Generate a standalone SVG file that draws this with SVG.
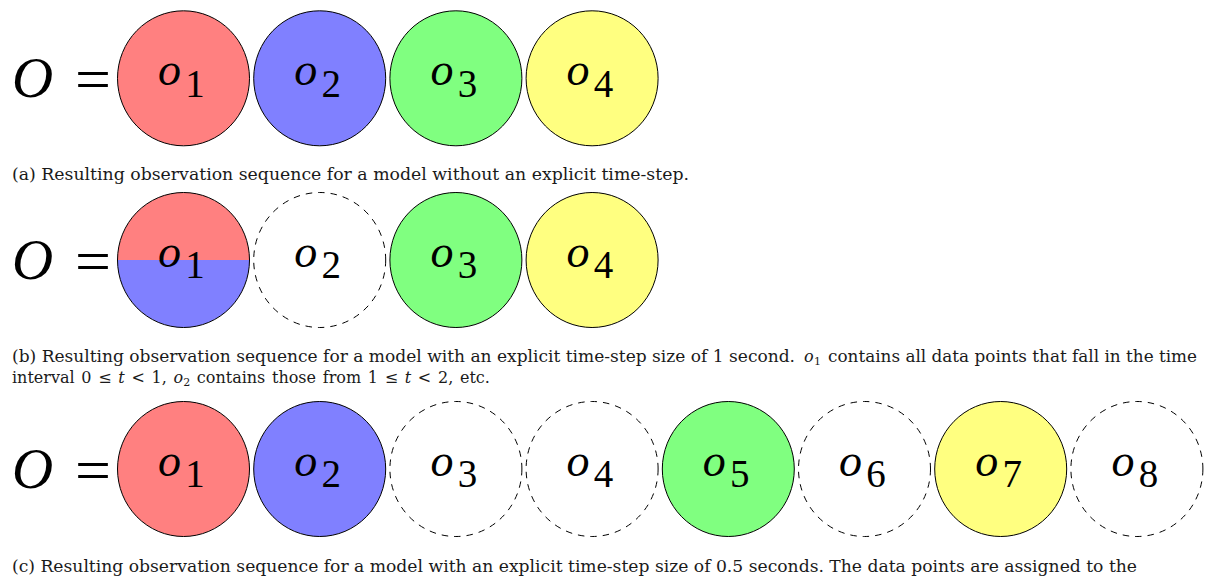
<svg xmlns="http://www.w3.org/2000/svg" width="1208" height="578" viewBox="0 0 1208 578">
<style>
.bg{fill:#ffffff}
.node{stroke:#000;stroke-width:1}
.dash{fill:#ffffff;stroke:#000;stroke-width:1;stroke-dasharray:6.5 6}
.red{fill:#FF8080}
.blue{fill:#8080FF}
.green{fill:#80FF80}
.yellow{fill:#FFFF80}
.mi{font-family:"Liberation Serif",serif;font-style:italic;fill:#000}
.big{font-size:57px}
.o{font-size:46px;text-anchor:middle}
.sub{font-family:"Liberation Serif",serif;font-size:39px;text-anchor:middle;fill:#000}
.eq{font-family:"Liberation Serif",serif;font-size:60px;fill:#000}
.cap{font-family:"DejaVu Serif",serif;font-size:16px;fill:#1a1a1a}
.capi{font-style:italic}
.capsub{font-size:11px}
</style>
<rect class="bg" x="0" y="0" width="1208" height="578"/>
<g id="connectors"/>

<!-- Row (a) -->
<g id="row-a-label">
<text class="mi big" x="12" y="97.3">O</text>
<text class="eq" x="75" y="99" textLength="36" lengthAdjust="spacingAndGlyphs">=</text>
</g>
<g id="a-o1"><ellipse class="node red" cx="183.5" cy="78.3" rx="66" ry="67.5"/><text class="mi o" x="169.5" y="85">o</text><text class="sub" x="195" y="96.7">1</text></g>
<g id="a-o2"><ellipse class="node blue" cx="319.7" cy="78.3" rx="66" ry="67.5"/><text class="mi o" x="305.7" y="85">o</text><text class="sub" x="331.2" y="96.7">2</text></g>
<g id="a-o3"><ellipse class="node green" cx="455.9" cy="78.3" rx="66" ry="67.5"/><text class="mi o" x="441.9" y="85">o</text><text class="sub" x="467.4" y="96.7">3</text></g>
<g id="a-o4"><ellipse class="node yellow" cx="592.1" cy="78.3" rx="66" ry="67.5"/><text class="mi o" x="578.1" y="85">o</text><text class="sub" x="603.6" y="96.7">4</text></g>
<g id="caption-a">
<text class="cap" x="12" y="180" textLength="677" lengthAdjust="spacingAndGlyphs">(a) Resulting observation sequence for a model without an explicit time-step.</text>
</g>

<!-- Row (b) -->
<g id="row-b-label">
<text class="mi big" x="12" y="279">O</text>
<text class="eq" x="75" y="280.7" textLength="36" lengthAdjust="spacingAndGlyphs">=</text>
</g>
<g id="b-o1">
<path class="red" d="M117.5,260 A66,67.5 0 0 1 249.5,260 Z"/>
<path class="blue" d="M117.5,260 A66,67.5 0 0 0 249.5,260 Z"/>
<ellipse class="node" fill="none" cx="183.5" cy="260" rx="66" ry="67.5"/>
<text class="mi o" x="169.5" y="266.7">o</text><text class="sub" x="195" y="278.4">1</text></g>
<g id="b-o2"><ellipse class="dash" cx="319.7" cy="260" rx="66" ry="67.5"/><text class="mi o" x="305.7" y="266.7">o</text><text class="sub" x="331.2" y="278.4">2</text></g>
<g id="b-o3"><ellipse class="node green" cx="455.9" cy="260" rx="66" ry="67.5"/><text class="mi o" x="441.9" y="266.7">o</text><text class="sub" x="467.4" y="278.4">3</text></g>
<g id="b-o4"><ellipse class="node yellow" cx="592.1" cy="260" rx="66" ry="67.5"/><text class="mi o" x="578.1" y="266.7">o</text><text class="sub" x="603.6" y="278.4">4</text></g>
<g id="caption-b">
<text class="cap" x="12" y="362" textLength="783" lengthAdjust="spacingAndGlyphs">(b) Resulting observation sequence for a model with an explicit time-step size of 1 second.</text>
<text class="cap capi" x="804" y="362">o</text><text class="cap capsub" x="814" y="365">1</text>
<text class="cap" x="828" y="362" textLength="369" lengthAdjust="spacingAndGlyphs">contains all data points that fall in the time</text>
<text class="cap" x="12" y="383" style="word-spacing:1.6px">interval 0 ≤ <tspan class="capi">t</tspan> &lt; 1, <tspan class="capi">o</tspan><tspan class="capsub" dy="3">2</tspan><tspan dy="-3"> contains those from 1 ≤ </tspan><tspan class="capi">t</tspan> &lt; 2, etc.</text>
</g>

<!-- Row (c) -->
<g id="row-c-label">
<text class="mi big" x="12" y="488">O</text>
<text class="eq" x="75" y="489.7" textLength="36" lengthAdjust="spacingAndGlyphs">=</text>
</g>
<g id="c-o1"><ellipse class="node red" cx="183.5" cy="469" rx="66" ry="67.5"/><text class="mi o" x="169.5" y="475.7">o</text><text class="sub" x="195" y="487.4">1</text></g>
<g id="c-o2"><ellipse class="node blue" cx="319.7" cy="469" rx="66" ry="67.5"/><text class="mi o" x="305.7" y="475.7">o</text><text class="sub" x="331.2" y="487.4">2</text></g>
<g id="c-o3"><ellipse class="dash" cx="455.9" cy="469" rx="66" ry="67.5"/><text class="mi o" x="441.9" y="475.7">o</text><text class="sub" x="467.4" y="487.4">3</text></g>
<g id="c-o4"><ellipse class="dash" cx="592.1" cy="469" rx="66" ry="67.5"/><text class="mi o" x="578.1" y="475.7">o</text><text class="sub" x="603.6" y="487.4">4</text></g>
<g id="c-o5"><ellipse class="node green" cx="728.3" cy="469" rx="66" ry="67.5"/><text class="mi o" x="714.3" y="475.7">o</text><text class="sub" x="739.8" y="487.4">5</text></g>
<g id="c-o6"><ellipse class="dash" cx="864.5" cy="469" rx="66" ry="67.5"/><text class="mi o" x="850.5" y="475.7">o</text><text class="sub" x="876" y="487.4">6</text></g>
<g id="c-o7"><ellipse class="node yellow" cx="1000.7" cy="469" rx="66" ry="67.5"/><text class="mi o" x="986.7" y="475.7">o</text><text class="sub" x="1012.2" y="487.4">7</text></g>
<g id="c-o8"><ellipse class="dash" cx="1136.9" cy="469" rx="66" ry="67.5"/><text class="mi o" x="1122.9" y="475.7">o</text><text class="sub" x="1148.4" y="487.4">8</text></g>
<g id="caption-c">
<text class="cap" x="12" y="571.5" textLength="1125" lengthAdjust="spacingAndGlyphs">(c) Resulting observation sequence for a model with an explicit time-step size of 0.5 seconds. The data points are assigned to the</text>
</g>
</svg>
